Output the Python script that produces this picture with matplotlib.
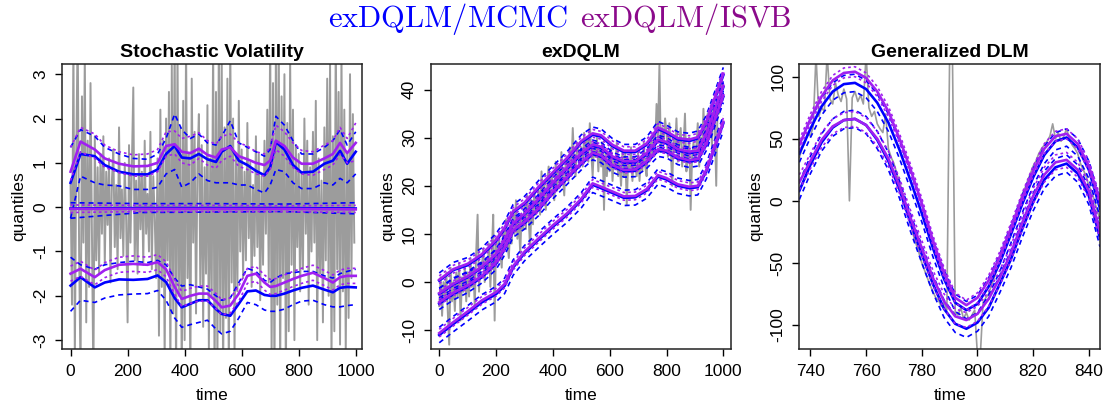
import numpy as np
import matplotlib
matplotlib.use("Agg")
import matplotlib.pyplot as plt

plt.rcParams['font.family'] = ['Liberation Sans', 'DejaVu Sans']
plt.rcParams['mathtext.fontset'] = 'cm'

# ---------------- Panel 1: Stochastic Volatility ----------------
p1_obs_time = np.arange(0, 1000, 5)
p1_obs = [0.5, -2.2, 3.8, -3.5, 1.2, 4.0, -1.0, -3.8, 2.5, -0.8,
          3.5, -2.6, 1.5, -1.8, 2.8, -0.5, -4.0, 1.6, -1.2, 0.9,
          -1.5, 1.2, -0.6, 1.6, -1.3, 0.8, -0.4, 1.1, -1.7, 0.6,
          1.3, -0.9, 0.5, -1.4, 1.8, -0.7, 0.4, -1.1, 1.0, -0.3,
          -2.6, 1.4, -0.8, 0.9, 2.7, -1.2, 0.6, -1.5, 1.2, -0.5,
          0.8, -1.3, 1.5, -0.6, 0.3, -1.0, 1.7, -1.4, 0.7, -0.2,
          -1.6, 1.1, -2.9, 2.2, -1.8, 1.5, -3.5, 2.0, -1.2, 2.6,
          -3.8, 3.2, -2.4, 4.0, -4.0, 3.6, -2.0, 1.8, -4.0, 2.4,
          -3.0, 3.8, -1.6, 1.2, -4.0, 2.9, -0.8, 1.7, -2.4, 1.0,
          2.1, -1.8, 1.4, -2.7, 0.9, -1.5, 2.3, -3.2, 1.1, -2.0,
          3.8, -4.0, 2.6, -3.6, 4.0, -2.8, 3.5, -4.0, 1.8, -2.5,
          2.9, -4.0, 3.9, -1.7, 2.0, -3.3, 1.2, -1.9, 2.4, -1.0,
          1.3, -1.6, 0.8, -1.2, 1.9, -0.7, 1.0, -1.8, 0.5, -1.1,
          1.6, -0.9, 1.2, -2.1, 0.7, -1.3, 1.5, -0.6, 2.2, -1.7,
          4.0, -3.4, 2.8, -4.0, 3.6, -2.2, 4.0, -3.9, 2.5, -1.6,
          3.0, -4.0, 1.9, -2.8, 3.4, -1.3, 2.2, -3.0, 1.4, -0.9,
          1.2, -1.9, 0.8, -1.4, 2.0, -0.6, 1.5, -2.2, 0.9, -1.0,
          1.7, -0.8, 2.4, -3.0, 1.1, -1.5, 0.6, -2.6, 1.8, -1.2,
          2.9, -2.0, 3.3, -3.5, 1.6, -2.8, 4.0, -1.4, 2.6, -3.1,
          3.5, -1.9, 2.2, -3.3, 1.2, -2.5, 3.0, -1.6, 2.1, -0.8]

p1_time = [0, 35, 85, 120, 170, 220, 270, 305, 335, 365, 390, 420, 450, 480, 510, 530,
           560, 590, 620, 650, 680, 700, 720, 750, 780, 810, 850, 890, 920, 945, 970, 1000]
# upper quantile
p1_up_mcmc = [0.55, 1.2, 1.15, 0.95, 0.8, 0.74, 0.74, 0.85, 1.2, 1.38, 1.12, 1.1, 1.2, 1.08, 1.02, 1.25,
              1.38, 1.05, 0.95, 0.82, 0.72, 0.9, 1.47, 1.3, 0.95, 0.78, 0.8, 0.98, 1.05, 1.27, 0.98, 1.25]
p1_up_mcmc_hi = [1.35, 1.75, 1.6, 1.35, 1.2, 1.1, 1.08, 1.2, 1.55, 2.1, 1.75, 1.55, 1.65, 1.45, 1.4, 1.6,
                 1.95, 1.45, 1.35, 1.25, 1.15, 1.3, 2.05, 1.85, 1.5, 1.2, 1.2, 1.35, 1.5, 1.75, 1.4, 1.7]
p1_up_mcmc_lo = [-0.25, 0.7, 0.55, 0.5, 0.48, 0.4, 0.4, 0.45, 0.75, 0.85, 0.45, 0.55, 0.75, 0.6, 0.55, 0.55,
                 0.55, 0.5, 0.5, 0.4, 0.32, 0.5, 0.85, 0.8, 0.55, 0.42, 0.42, 0.55, 0.5, 0.65, 0.55, 0.75]
p1_up_isvb = [0.8, 1.48, 1.3, 1.1, 0.98, 0.92, 0.93, 1.0, 1.38, 1.42, 1.25, 1.22, 1.32, 1.18, 1.12, 1.3,
              1.35, 1.15, 1.08, 1.0, 0.95, 1.05, 1.5, 1.38, 1.12, 0.98, 0.98, 1.1, 1.2, 1.45, 1.22, 1.45]
p1_up_isvb_hi = [1.35, 1.8, 1.65, 1.4, 1.25, 1.18, 1.2, 1.3, 1.7, 1.72, 1.55, 1.6, 1.68, 1.5, 1.42, 1.6,
                 1.65, 1.45, 1.38, 1.25, 1.2, 1.35, 1.85, 1.7, 1.45, 1.28, 1.25, 1.4, 1.5, 1.8, 1.55, 1.9]
p1_up_isvb_lo = [0.6, 1.25, 1.1, 0.9, 0.78, 0.7, 0.7, 0.8, 1.15, 1.2, 1.0, 0.95, 1.1, 0.95, 0.88, 1.05,
                 1.15, 0.92, 0.85, 0.75, 0.7, 0.85, 1.3, 1.15, 0.9, 0.75, 0.72, 0.85, 0.95, 1.2, 1.0, 1.05]
# median quantile
p1_mid_time = [0, 250, 500, 750, 1000]
p1_mid_mcmc = [-0.03, -0.02, -0.02, -0.02, -0.03]
p1_mid_mcmc_hi = [0.1, 0.08, 0.08, 0.07, 0.1]
p1_mid_mcmc_lo = [-0.25, -0.12, -0.11, -0.1, -0.15]
p1_mid_isvb = [-0.04, -0.04, -0.04, -0.04, -0.05]
p1_mid_isvb_hi = [0.05, 0.04, 0.04, 0.03, 0.04]
p1_mid_isvb_lo = [-0.12, -0.1, -0.1, -0.1, -0.12]
# lower quantile
p1_lo_mcmc = [-1.77, -1.58, -1.81, -1.7, -1.63, -1.64, -1.62, -1.54, -1.69, -2.05, -2.26, -2.18, -2.1, -2.1, -2.3, -2.41,
              -2.45, -2.18, -1.9, -1.88, -1.98, -2.0, -2.0, -1.95, -1.88, -1.82, -1.77, -1.86, -1.92, -1.82, -1.8, -1.81]
p1_lo_mcmc_hi = [-1.13, -1.3, -1.4, -1.3, -1.25, -1.22, -1.25, -1.2, -1.3, -1.6, -1.78, -1.75, -1.8, -1.85, -2.0, -2.1,
                 -2.05, -1.7, -1.38, -1.45, -1.65, -1.7, -1.6, -1.5, -1.48, -1.45, -1.45, -1.55, -1.6, -1.5, -1.45, -1.4]
p1_lo_mcmc_lo = [-2.35, -2.1, -2.15, -2.05, -1.98, -1.96, -1.95, -1.88, -2.1, -2.5, -2.71, -2.65, -2.6, -2.55, -2.75, -2.86,
                 -2.8, -2.5, -2.15, -2.2, -2.32, -2.35, -2.35, -2.3, -2.2, -2.12, -2.1, -2.2, -2.25, -2.25, -2.22, -2.2]
p1_lo_isvb = [-1.5, -1.39, -1.58, -1.42, -1.3, -1.28, -1.3, -1.24, -1.4, -1.8, -2.07, -2.0, -1.95, -1.95, -2.12, -2.26,
              -2.22, -1.95, -1.55, -1.5, -1.7, -1.8, -1.78, -1.7, -1.62, -1.55, -1.48, -1.6, -1.7, -1.58, -1.55, -1.55]
p1_lo_isvb_hi = [-1.33, -1.22, -1.42, -1.25, -1.13, -1.1, -1.13, -1.07, -1.23, -1.63, -1.9, -1.83, -1.78, -1.78, -1.95, -2.09,
                 -2.05, -1.78, -1.38, -1.34, -1.53, -1.63, -1.61, -1.53, -1.45, -1.38, -1.31, -1.43, -1.53, -1.42, -1.38, -1.38]
p1_lo_isvb_lo = [-1.67, -1.56, -1.75, -1.59, -1.47, -1.45, -1.47, -1.41, -1.57, -1.97, -2.24, -2.17, -2.12, -2.12, -2.29, -2.43,
                 -2.39, -2.12, -1.72, -1.67, -1.87, -1.97, -1.95, -1.87, -1.79, -1.72, -1.65, -1.77, -1.87, -1.75, -1.72, -1.72]

# ---------------- Panel 2: exDQLM ----------------
p2_obs_time = np.arange(0, 1000, 5)
p2_obs = [-5, 1, -7, 0, -3, 2, -6, -13, 3, -4,
          0, -6, 2, -3, 4, -8, 1, -2, 3, -4,
          2, -3, 5, -1, 3, -5, 6, 14, -2, 4,
          3, 7, 0, 5, 2, 8, -1, 6, 14, -8,
          9, 4, 10, 6, 3, 11, 7, 13, 8, 5,
          12, 8, 15, 10, 17, 9, 13, 6, 14, 11,
          16, 11, 18, 13, 7, 17, 12, 19, 14, 16,
          19, 14, 23, 17, 21, 15, 20, 24, 18, 22,
          21, 17, 25, 19, 24, 20, 27, 22, 18, 25,
          26, 21, 28, 23, 32, 25, 22, 29, 27, 24,
          28, 24, 31, 26, 30, 25, 33, 27, 22, 29,
          26, 30, 23, 28, 24, 29, 15, 27, 22, 26,
          23, 28, 21, 26, 24, 29, 22, 25, 20, 27,
          22, 27, 16, 25, 23, 28, 21, 26, 24, 22,
          27, 21, 26, 23, 29, 24, 22, 28, 25, 30,
          26, 31, 28, 37, 30, 45, 27, 32, 29, 34,
          31, 26, 33, 28, 20, 30, 27, 34, 25, 29,
          32, 24, 28, 35, 23, 27, 30, 15, 26, 29,
          25, 28, 33, 24, 30, 27, 36, 29, 32, 35,
          30, 35, 28, 37, 33, 20, 38, 35, 42, 39]

p2_time = [0, 50, 100, 150, 200, 230, 260, 300, 350, 400, 450, 500, 540, 570,
           610, 650, 690, 730, 770, 800, 840, 880, 910, 940, 970, 1000]
p2_q4_mcmc = [0.3, 2.5, 3.5, 5.5, 8.5, 11, 14.5, 16.2, 19.5, 22.5, 25.5, 29, 30.6, 30.2,
              28.2, 27, 27, 28.5, 31.8, 31, 29.6, 29.3, 29.8, 33, 38, 43]
p2_q4_isvb = [0.5, 2.7, 3.8, 5.8, 8.8, 11.3, 14.7, 16.5, 19.8, 22.8, 25.8, 29.3, 30.9, 30.5,
              28.5, 27.3, 27.3, 28.8, 32.1, 31.3, 29.9, 29.6, 30.1, 33.3, 38.3, 43.3]
p2_q3_mcmc = [-2.5, -0.5, 1, 3, 5.5, 8.5, 12, 14, 17, 20.5, 23.5, 26.5, 28.3, 27.8,
              25.8, 24.8, 24.8, 26.5, 29.3, 28.8, 27.3, 26.8, 27, 30.5, 35.5, 40.5]
p2_q3_isvb = [-2.3, -0.3, 1.2, 3.2, 5.8, 8.8, 12.2, 14.2, 17.3, 20.7, 23.8, 26.8, 28.6, 28.1,
              26.1, 25.1, 25.1, 26.8, 29.6, 29.1, 27.6, 27.1, 27.3, 30.8, 35.8, 40.8]
p2_q2_mcmc = [-4.5, -2.5, -1, 1, 3.8, 6.8, 10.5, 12.2, 15, 18.5, 21.5, 24.5, 26.6, 26,
              24, 23, 23.1, 24.8, 27.3, 27, 25.6, 25, 25.3, 28.5, 33.5, 38.5]
p2_q2_isvb = [-4.2, -2.2, -0.7, 1.3, 4.1, 7.1, 10.8, 12.5, 15.3, 18.8, 21.8, 24.8, 26.9, 26.3,
              24.3, 23.3, 23.4, 25.1, 27.6, 27.3, 25.9, 25.3, 25.6, 28.8, 33.8, 38.8]
p2_q1_mcmc = [-11, -8.7, -6.5, -4.2, -2.5, -0.8, 3, 6, 8.8, 11.5, 14, 17, 20.2, 19.5,
              18.5, 17.5, 17.6, 19, 21.9, 21.3, 20, 19.5, 19.7, 23, 28, 33]
p2_q1_isvb = [-10.6, -8.3, -6.1, -3.8, -2.1, -0.4, 3.3, 6.3, 9.1, 11.8, 14.3, 17.3, 20.5, 19.8,
              18.8, 17.8, 17.9, 19.3, 22.2, 21.6, 20.3, 19.8, 20, 23.3, 28.3, 33.3]
p2_mcmc_halfwidth = [1.6, 1.2, 1.2, 1.6]   # q1..q4
p2_isvb_halfwidth = [0.8, 0.6, 0.6, 0.8]

# ---------------- Panel 3: Generalized DLM ----------------
p3_obs_time = np.arange(736, 845)
p3_obs = [35, 42, 47, 55, 52, 60, 118, 68, 75, 72,
          118, 82, 78, 95, 85, 80, 90, 82, 0, 83,
          88, 80, 85, 78, 118, 75, 68, 72, 62, 58,
          55, 70, 42, 35, 30, 22, 15, 8, -2, -10,
          -18, -28, -35, -42, -50, -56, -62, -68, -73, -78,
          -80, -85, -82, -88, 118, 118, -90, -92, -86, -95,
          -90, -96, -92, -88, -125, -125, -82, -78, -75, -68,
          -62, -55, -50, -42, -35, -30, -22, -15, -8, -2,
          5, 10, 16, 22, 28, 32, 38, 42, 45, 48,
          52, 62, 50, 55, 48, 52, 58, 50, 45, 42,
          38, 30, 25, 20, 12, 8, 0, -8, -15]

p3_time = list(range(736, 845, 4))
p3_up_isvb = [45, 66, 84, 97, 103, 104, 99, 88, 72, 50, 25, -2, -32, -58, -78, -84, -78, -64,
              -45, -22, 2, 24, 42, 52, 54, 46, 28, 0]
p3_up_mcmc = [38, 58, 76, 88, 94, 95, 90, 79, 63, 41, 16, -10, -38, -63, -82, -88, -83, -69,
              -50, -27, -3, 19, 37, 48, 51, 43, 25, -6]
p3_lo_isvb = [15, 32, 49, 60, 65, 66, 61, 50, 34, 12, -14, -38, -62, -81, -93, -96, -91, -79,
              -62, -42, -18, 4, 21, 31, 33, 25, 8, -25]
p3_lo_mcmc = [8, 29, 47, 59, 65, 66, 61, 49, 32, 9, -18, -43, -67, -87, -99, -103, -98, -86,
              -67, -47, -23, -1, 17, 27, 30, 22, 4, -30]
p3_mcmc_halfwidth = [7, 7]   # lower, upper
p3_isvb_halfwidth = [6, 4]

BLUE = '#0000FF'
PURPLE = '#A020F0'
GRAY = '#9C9C9C'
DASH = (0, (3.0, 2.4))
DOT = (0, (1.6, 1.8))


def style_axes(ax, xlim, ylim, xticks, yticks, title):
    ax.set_xlim(*xlim)
    ax.set_ylim(*ylim)
    ax.set_xticks(xticks)
    ax.set_yticks(yticks)
    ax.set_xticklabels([str(v) for v in xticks])
    ax.set_yticklabels([str(v) for v in yticks], rotation=90, va='center')
    ax.tick_params(direction='out', length=5, width=1, labelsize=12.5)
    ax.tick_params(axis='x', pad=5.5)
    ax.tick_params(axis='y', pad=5)
    for s in ax.spines.values():
        s.set_linewidth(1.1)
        s.set_color('#222222')
    ax.set_title(title, fontweight='bold', fontsize=14, pad=5)
    ax.set_xlabel('time', fontsize=12.5, labelpad=7)
    ax.set_ylabel('quantiles', fontsize=12.5, labelpad=5)


def band(ax, t, mid, hi, lo, color, ls):
    ax.plot(t, hi, color=color, lw=1.2, ls=ls)
    ax.plot(t, lo, color=color, lw=1.2, ls=ls)
    ax.plot(t, mid, color=color, lw=1.9)


fig = plt.figure(figsize=(11.07, 4.08), dpi=100)
W, H = 1107.0, 408.0
ax1 = fig.add_axes([62 / W, 1 - 349 / H, 300 / W, 285 / H])
ax2 = fig.add_axes([431 / W, 1 - 349 / H, 300 / W, 285 / H])
ax3 = fig.add_axes([799.3 / W, 1 - 349 / H, 300.7 / W, 285 / H])

# Panel 1
ax1.plot(p1_obs_time, p1_obs, color=GRAY, lw=1.4)
band(ax1, p1_time, p1_up_mcmc, p1_up_mcmc_hi, p1_up_mcmc_lo, BLUE, DASH)
band(ax1, p1_mid_time, p1_mid_mcmc, p1_mid_mcmc_hi, p1_mid_mcmc_lo, BLUE, DASH)
band(ax1, p1_time, p1_lo_mcmc, p1_lo_mcmc_hi, p1_lo_mcmc_lo, BLUE, DASH)
band(ax1, p1_time, p1_up_isvb, p1_up_isvb_hi, p1_up_isvb_lo, PURPLE, DOT)
band(ax1, p1_mid_time, p1_mid_isvb, p1_mid_isvb_hi, p1_mid_isvb_lo, PURPLE, DOT)
band(ax1, p1_time, p1_lo_isvb, p1_lo_isvb_hi, p1_lo_isvb_lo, PURPLE, DOT)
style_axes(ax1, (-30, 1022), (-3.2, 3.23), [0, 200, 400, 600, 800, 1000],
           [-3, -2, -1, 0, 1, 2, 3], 'Stochastic Volatility')

# Panel 2
ax2.plot(p2_obs_time, p2_obs, color=GRAY, lw=1.4)
p2_mcmc = [p2_q1_mcmc, p2_q2_mcmc, p2_q3_mcmc, p2_q4_mcmc]
p2_isvb = [p2_q1_isvb, p2_q2_isvb, p2_q3_isvb, p2_q4_isvb]
for k in range(4):
    m = np.array(p2_mcmc[k], dtype=float)
    band(ax2, p2_time, m, m + p2_mcmc_halfwidth[k], m - p2_mcmc_halfwidth[k], BLUE, DASH)
for k in range(4):
    m = np.array(p2_isvb[k], dtype=float)
    band(ax2, p2_time, m, m + p2_isvb_halfwidth[k], m - p2_isvb_halfwidth[k], PURPLE, DOT)
style_axes(ax2, (-29, 1027), (-13.9, 45.3), [0, 200, 400, 600, 800, 1000],
           [-10, 0, 10, 20, 30, 40], 'exDQLM')

# Panel 3
ax3.plot(p3_obs_time, p3_obs, color=GRAY, lw=1.2)
for k, m in enumerate([p3_lo_mcmc, p3_up_mcmc]):
    m = np.array(m, dtype=float)
    band(ax3, p3_time, m, m + p3_mcmc_halfwidth[k], m - p3_mcmc_halfwidth[k], BLUE, DASH)
for k, m in enumerate([p3_lo_isvb, p3_up_isvb]):
    m = np.array(m, dtype=float)
    band(ax3, p3_time, m, m + p3_isvb_halfwidth[k], m - p3_isvb_halfwidth[k], PURPLE, DOT)
style_axes(ax3, (736, 844), (-119.3, 110.2), [740, 760, 780, 800, 820, 840],
           [-100, -50, 0, 50, 100], 'Generalized DLM')

fig.text(567 / W, 1 - 27 / H, r'$\mathrm{exDQLM/MCMC}$', color=BLUE, fontsize=22,
         ha='right', va='baseline')
fig.text(580 / W, 1 - 27 / H, r'$\mathrm{exDQLM/ISVB}$', color='#8B0A8B', fontsize=22,
         ha='left', va='baseline')

fig.savefig('out.png', dpi=100)
